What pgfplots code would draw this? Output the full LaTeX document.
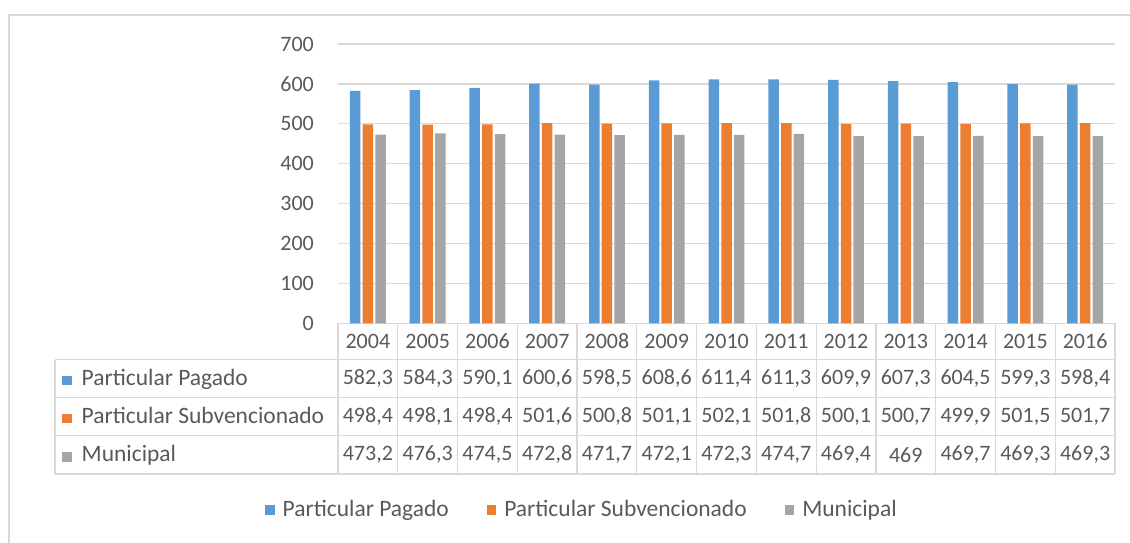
\documentclass[border=0pt]{standalone}
\usepackage{pgfplots}
\usepackage{pgfplotstable}
\pgfplotsset{compat=1.18}
\usepackage{fontspec}
\setmainfont{Carlito}
\definecolor{cpp}{HTML}{5B9BD5}
\definecolor{cps}{HTML}{ED7D31}
\definecolor{cmu}{HTML}{A5A5A5}
\definecolor{cgrid}{HTML}{D9D9D9}
\definecolor{ctext}{HTML}{595959}
\pgfplotstableread{
x year pp ps mu
0 2004 582.3 498.4 473.2
1 2005 584.3 498.1 476.3
2 2006 590.1 498.4 474.5
3 2007 600.6 501.6 472.8
4 2008 598.5 500.8 471.7
5 2009 608.6 501.1 472.1
6 2010 611.4 502.1 472.3
7 2011 611.3 501.8 474.7
8 2012 609.9 500.1 469.4
9 2013 607.3 500.7 469
10 2014 604.5 499.9 469.7
11 2015 599.3 501.5 469.3
12 2016 598.4 501.7 469.3
}\datatable
\newcommand\cfont{\fontsize{22}{26}\selectfont}
\newcommand\tfont{\fontsize{23.5}{27}\selectfont}
\begin{document}
\cfont
\begin{tikzpicture}[x=1pt,y=1pt]
\useasboundingbox (0,0) rectangle (1130,543);
\draw[line width=2pt, cgrid] (9,0) -- (9,528) -- (1131,528);
\begin{axis}[
  at={(338pt,219.5pt)}, anchor=south west,
  scale only axis, width=777pt, height=279.5pt,
  clip=false,
  xmin=-0.5, xmax=12.5, ymin=0, ymax=700,
  /pgf/number format/assume math mode=true,
  axis line style={draw=none},
  major tick length=0pt,
  ytick={0,100,...,700},
  ymajorgrids, grid style={cgrid, line width=1.2pt},
  yticklabel style={anchor=east, inner sep=0pt, xshift=-24pt, text=ctext, font=\cfont},
  xtick={0,...,12},
  xticklabels={2004,2005,2006,2007,2008,2009,2010,2011,2012,2013,2014,2015,2016},
  xticklabel style={anchor=center, inner sep=0pt, yshift=-18pt, text=ctext, font=\cfont},
  legend columns=3,
  legend cell align=left,
  legend image code/.code={\fill[#1] (0pt,-4.75pt) rectangle (9.5pt,4.75pt);},
  legend style={at={(0.314,-0.667)}, anchor=center, draw=none, fill=none,
    font=\tfont, text=ctext,
    /tikz/every odd column/.append style={column sep=6pt},
    /tikz/every even column/.append style={column sep=36pt}},
  every node near coord/.append style={anchor=center, inner sep=0pt, text=ctext, font=\cfont},
]
\addplot[ybar, bar width=10.5pt, bar shift=-12.7pt, fill=cpp, draw=none] table[x=x,y=pp]{\datatable};
\addlegendentry{Particular Pagado}
\addplot[ybar, bar width=10.5pt, bar shift=0pt, fill=cps, draw=none] table[x=x,y=ps]{\datatable};
\addlegendentry{Particular Subvencionado}
\addplot[ybar, bar width=10.5pt, bar shift=12.7pt, fill=cmu, draw=none] table[x=x,y=mu]{\datatable};
\addlegendentry{Municipal}

\addplot[forget plot, draw=none, mark=none, point meta=explicit,
  nodes near coords={\pgfmathprintnumber[fixed,precision=1,use comma]{\pgfplotspointmeta}}]
  table[x=x, y expr=-137.7, meta=pp]{\datatable};
\addplot[forget plot, draw=none, mark=none, point meta=explicit,
  nodes near coords={\pgfmathprintnumber[fixed,precision=1,use comma]{\pgfplotspointmeta}}]
  table[x=x, y expr=-233.4, meta=ps]{\datatable};
\addplot[forget plot, draw=none, mark=none, point meta=explicit,
  nodes near coords={\pgfmathprintnumber[fixed,precision=1,use comma]{\pgfplotspointmeta}}]
  table[x=x, y expr=-328.9, meta=mu]{\datatable};

% table grid
\pgfplotsinvokeforeach{-0.5,0.5,1.5,2.5,3.5,4.5,5.5,6.5,7.5,8.5,9.5,10.5,11.5,12.5}{
  \draw[cgrid, line width=1.2pt] (axis cs:#1,0) -- (axis cs:#1,-376.9);
}
\pgfplotsinvokeforeach{-90.2,-185.8,-281.0,-376.9}{
  \draw[cgrid, line width=1.2pt] (axis cs:-5.235,#1) -- (axis cs:12.5,#1);
}
\draw[cgrid, line width=1.2pt] (axis cs:-5.235,-90.2) -- (axis cs:-5.235,-376.9);
\node[anchor=base west, inner sep=0pt, text=ctext, font=\tfont] at (axis cs:-5.118,-154.8)
  {\textcolor{cpp}{\rule{9.5pt}{9.5pt}}\hspace{10pt}Particular Pagado};
\node[anchor=base west, inner sep=0pt, text=ctext, font=\tfont] at (axis cs:-5.118,-250.4)
  {\textcolor{cps}{\rule{9.5pt}{9.5pt}}\hspace{10pt}Particular Subvencionado};
\node[anchor=base west, inner sep=0pt, text=ctext, font=\tfont] at (axis cs:-5.118,-345.9)
  {\textcolor{cmu}{\rule{9.5pt}{9.5pt}}\hspace{10pt}Municipal};
\end{axis}
\end{tikzpicture}
\end{document}
